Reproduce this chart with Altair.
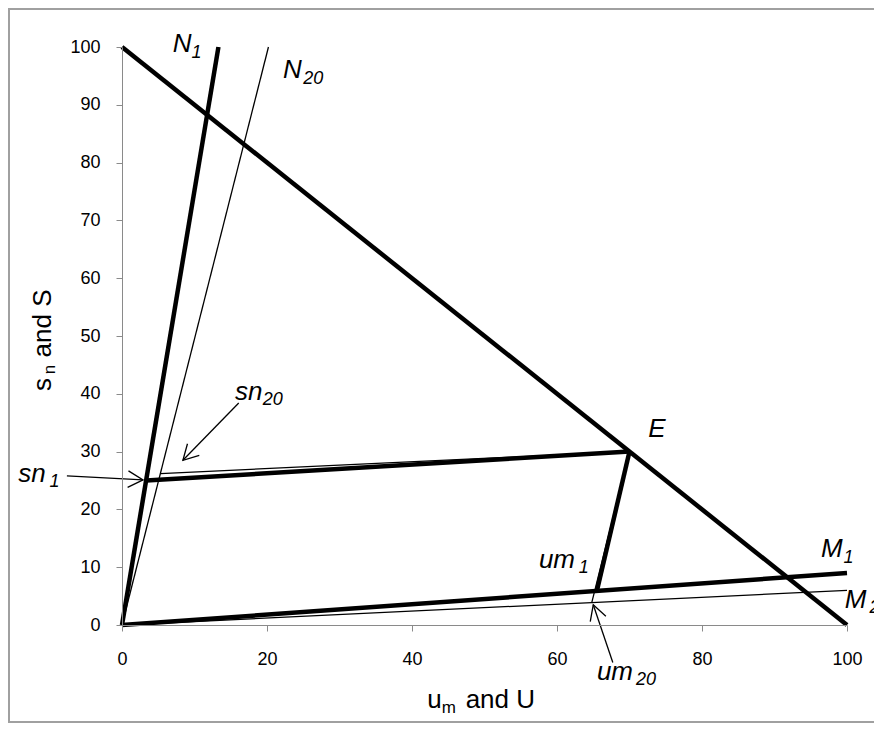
import math
import altair as alt
import pandas as pd

W, H = 725, 578
FONT = "Liberation Sans"

# line segments (data units)
seg_name = ["budget", "N1", "M1", "sn1", "um1", "N20", "M20", "sn20", "um20"]
seg_x1 = [0, 0, 0, 3.35, 65.5, 0, 0, 5.3, 64.8]
seg_y1 = [100, 0, 0, 25.0, 5.9, 0, 0, 26.2, 3.9]
seg_x2 = [100, 13.3, 100, 70, 70, 20.2, 100, 70, 70]
seg_y2 = [0, 100, 9, 30, 30, 100, 6, 30, 30]
seg_w = ["thick"] * 5 + ["thin"] * 4

# annotation arrows (from label to point)
arr_name = ["sn1", "sn20", "um20"]
arr_x1 = [-7.6, 16.1, 67.7]
arr_y1 = [25.8, 38.4, -6.5]
arr_x2 = [2.9, 8.4, 65.0]
arr_y2 = [25.1, 28.5, 3.5]

# italic labels and their subscripts
lab_main = ["N", "N", "sn", "sn", "E", "um", "M", "M", "um"]
lab_x = [7.0, 22.2, -14.3, 15.6, 72.6, 57.5, 96.4, 99.7, 65.5]
lab_y = [99.1, 94.6, 24.7, 38.9, 32.5, 9.9, 11.8, 2.9, -9.5]
sub_text = ["1", "20", "1", "20", "1", "1", "20", "20"]
sub_x = [9.6, 25.0, -10.0, 19.4, 63.0, 99.5, 103.1, 70.9]
sub_y = [98.1, 93.6, 23.9, 38.0, 9.0, 10.8, 2.0, -10.4]

# axis titles (pieces: main / subscript)
xt_text = ["u", "m", "and U"]
xt_x = [42.1, 44.1, 47.4]
xt_y = [-14.3, -15.2, -14.3]
xt_size = [26, 17, 26]
yt_text = ["s", "n", "and S"]
yt_x = [-9.8, -9.2, -9.8]
yt_y = [40.5, 43.4, 46.3]
yt_size = [26, 17, 26]

ticks = [0, 20, 40, 60, 80, 100]
yticks = [0, 10, 20, 30, 40, 50, 60, 70, 80, 90, 100]

seg_df = pd.DataFrame({"name": seg_name, "x1": seg_x1, "y1": seg_y1,
                       "x2": seg_x2, "y2": seg_y2, "w": seg_w})
arr_df = pd.DataFrame({"name": arr_name, "x1": arr_x1, "y1": arr_y1,
                       "x2": arr_x2, "y2": arr_y2})
arr_df["ang"] = [
    (math.degrees(math.atan2(-(b2 - b1) * H / 100.0, (a2 - a1) * W / 100.0)) + 360) % 360
    for a1, b1, a2, b2 in zip(arr_x1, arr_y1, arr_x2, arr_y2)
]
lab_df = pd.DataFrame({"t": lab_main, "x": lab_x, "y": lab_y})
sub_df = pd.DataFrame({"t": sub_text, "x": sub_x, "y": sub_y})
xt_df = pd.DataFrame({"t": xt_text, "x": xt_x, "y": xt_y, "s": xt_size})
yt_df = pd.DataFrame({"t": yt_text, "x": yt_x, "y": yt_y, "s": yt_size})

xs = alt.Scale(domain=[0, 100], nice=False, zero=False)
ys = alt.Scale(domain=[0, 100], nice=False, zero=False)

xaxis = alt.Axis(values=ticks, title=None, grid=False, tickSize=6, labelPadding=19,
                 domainColor="#8a8a8a", tickColor="#8a8a8a", labelFont=FONT,
                 labelFontSize=18, labelColor="black", labelFlush=False, zindex=1)
yaxis = alt.Axis(values=yticks, title=None, grid=False, tickSize=6, labelPadding=16,
                 domainColor="#8a8a8a", tickColor="#8a8a8a", labelFont=FONT,
                 labelFontSize=18, labelColor="black", labelFlush=False, zindex=1)

border = alt.Chart(pd.DataFrame({"a": [0]})).mark_rect(
    fillOpacity=0, stroke="#a0a0a0", strokeWidth=2
).encode(x=alt.value(-113), x2=alt.value(770), y=alt.value(-38), y2=alt.value(675))

axes = alt.Chart(seg_df).mark_rule(opacity=0).encode(
    x=alt.X("x1:Q", scale=xs, axis=xaxis),
    y=alt.Y("y1:Q", scale=ys, axis=yaxis),
)

thick = alt.Chart(seg_df).transform_filter(alt.datum.w == "thick").mark_rule(
    color="black", strokeWidth=4.5
).encode(x=alt.X("x1:Q", scale=xs), y=alt.Y("y1:Q", scale=ys), x2="x2:Q", y2="y2:Q")

thin = alt.Chart(seg_df).transform_filter(alt.datum.w == "thin").mark_rule(
    color="black", strokeWidth=1.3
).encode(x=alt.X("x1:Q", scale=xs), y=alt.Y("y1:Q", scale=ys), x2="x2:Q", y2="y2:Q")

shafts = alt.Chart(arr_df).mark_rule(color="black", strokeWidth=1.3).encode(
    x=alt.X("x1:Q", scale=xs), y=alt.Y("y1:Q", scale=ys), x2="x2:Q", y2="y2:Q")

heads = alt.Chart(arr_df).mark_point(
    shape="M-1,-0.55L0,0L-1,0.55", filled=False, size=900, strokeWidth=1.3,
    color="black", opacity=1
).encode(x=alt.X("x2:Q", scale=xs), y=alt.Y("y2:Q", scale=ys),
         angle=alt.Angle("ang:Q", scale=None))

labels = alt.Chart(lab_df).mark_text(
    font=FONT, fontSize=26, fontStyle="italic", align="left", baseline="alphabetic",
    color="black"
).encode(x=alt.X("x:Q", scale=xs), y=alt.Y("y:Q", scale=ys), text="t:N")

subs = alt.Chart(sub_df).mark_text(
    font=FONT, fontSize=18, fontStyle="italic", align="left", baseline="alphabetic",
    color="black"
).encode(x=alt.X("x:Q", scale=xs), y=alt.Y("y:Q", scale=ys), text="t:N")

xtitle = alt.Chart(xt_df).mark_text(
    font=FONT, align="left", baseline="alphabetic", color="black"
).encode(x=alt.X("x:Q", scale=xs), y=alt.Y("y:Q", scale=ys), text="t:N",
         size=alt.Size("s:Q", scale=None, legend=None))

ytitle = alt.Chart(yt_df).mark_text(
    font=FONT, align="left", baseline="alphabetic", color="black", angle=270
).encode(x=alt.X("x:Q", scale=xs), y=alt.Y("y:Q", scale=ys), text="t:N",
         size=alt.Size("s:Q", scale=None, legend=None))

chart = alt.layer(border, axes, thin, thick, shafts, heads, labels, subs, xtitle, ytitle).properties(
    width=W, height=H,
    autosize=alt.AutoSizeParams(type="none"),
    padding={"left": 114, "top": 39, "right": 27, "bottom": 98},
    background="white",
).configure_view(stroke=None)

chart.save("out.html", embed_options={"renderer": "svg", "actions": False})
